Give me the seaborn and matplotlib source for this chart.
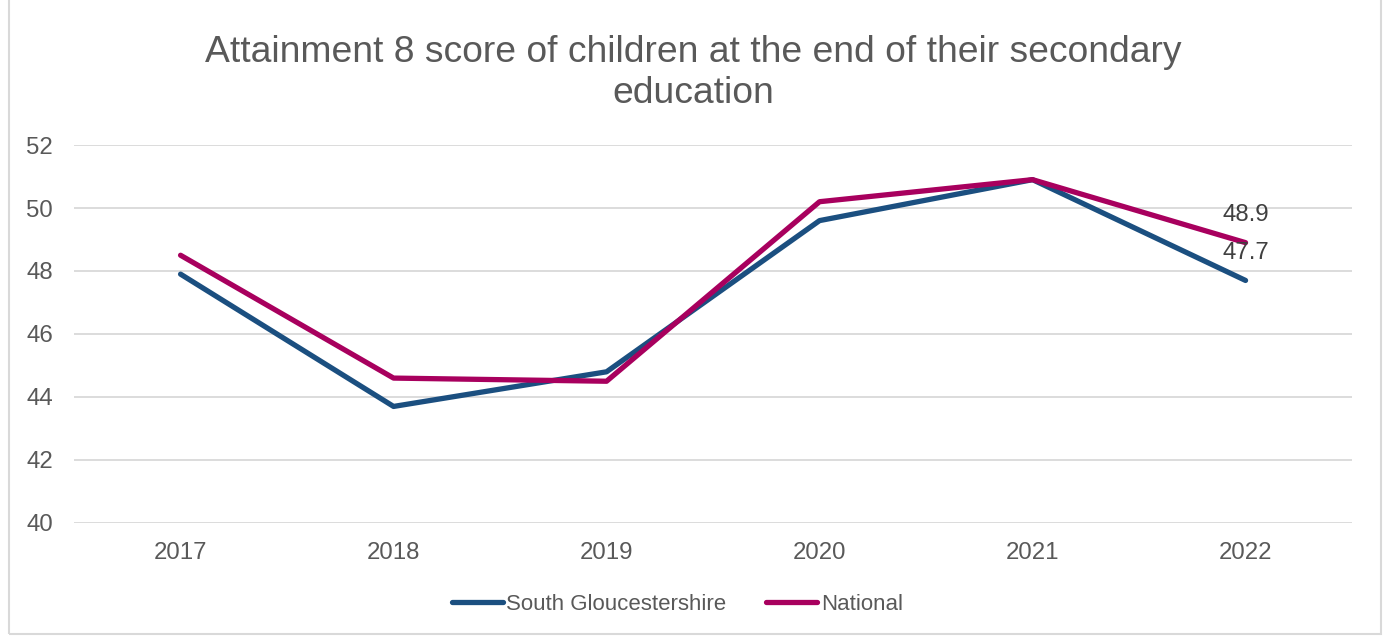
import matplotlib
matplotlib.use("Agg")
import matplotlib.pyplot as plt
import seaborn as sns
import pandas as pd
from matplotlib.patches import Rectangle

years = ["2017", "2018", "2019", "2020", "2021", "2022"]
south_glos = [47.9, 43.7, 44.8, 49.6, 50.9, 47.7]
national = [48.5, 44.6, 44.5, 50.2, 50.9, 48.9]
series_names = ["South Gloucestershire", "National"]
colors = ["#1B4F80", "#A8005E"]
y_ticks = [40, 42, 44, 46, 48, 50, 52]

df = pd.DataFrame({
    "Year": years * 2,
    "Score": south_glos + national,
    "Series": [series_names[0]] * len(years) + [series_names[1]] * len(years),
})

sns.set_theme(style="white")
plt.rcParams["font.family"] = ["Liberation Sans", "DejaVu Sans"]

FS = 17.3

fig = plt.figure(figsize=(13.87, 6.36), dpi=100)
ax = fig.add_axes([0.0534, 0.1777, 0.9214, 0.5943])

sns.lineplot(data=df, x="Year", y="Score", hue="Series", palette=colors,
             linewidth=3.8, ax=ax, sort=False, legend=True,
             solid_capstyle="round")

ax.set_xlim(-0.5, len(years) - 0.5)
ax.set_ylim(40, 52)
ax.set_yticks(y_ticks)
ax.set_yticklabels([str(t) for t in y_ticks])
ax.yaxis.grid(True, color="#D9D9D9", linewidth=1.3)
ax.xaxis.grid(False)
for s in ax.spines.values():
    s.set_visible(False)
ax.tick_params(axis="both", length=0, labelsize=FS, colors="#595959")
ax.tick_params(axis="y", pad=15)
ax.tick_params(axis="x", pad=14)
ax.set_xlabel("")
ax.set_ylabel("")

# data labels on last point
ax.annotate(f"{national[-1]}", (len(years) - 1, national[-1]), xytext=(0, 12),
            textcoords="offset points", ha="center", va="bottom",
            fontsize=FS, color="#404040")
ax.annotate(f"{south_glos[-1]}", (len(years) - 1, south_glos[-1]), xytext=(0, 12),
            textcoords="offset points", ha="center", va="bottom",
            fontsize=FS, color="#404040")

fig.text(0.5, 1 - 73 / 636,
         "Attainment 8 score of children at the end of their secondary\neducation",
         ha="center", va="center", fontsize=26.8, color="#595959", linespacing=1.2)

handles, labels = ax.get_legend_handles_labels()
leg = ax.legend(handles, labels, loc="center", bbox_to_anchor=(0.4883, 1 - 604 / 636),
                bbox_transform=fig.transFigure, ncol=2, frameon=False,
                fontsize=16, handlelength=2.3, handletextpad=0.15,
                columnspacing=1.8)
for t in leg.get_texts():
    t.set_color("#595959")
for h in leg.get_lines():
    h.set_linewidth(3.8)
    h.set_solid_capstyle("round")

fig.patches.append(Rectangle((0.0065, 0.003), 0.9895, 1.2, transform=fig.transFigure,
                             fill=False, edgecolor="#D9D9D9", linewidth=1.5))

fig.savefig("out.png", dpi=100)
